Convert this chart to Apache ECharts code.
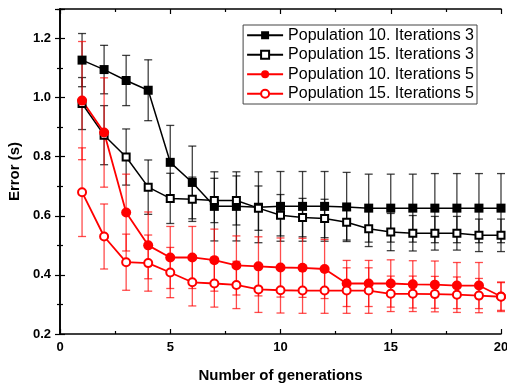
<!DOCTYPE html>
<html>
<head>
<meta charset="utf-8">
<script src="https://cdn.jsdelivr.net/npm/echarts@6/dist/echarts.min.js"></script>
<style>
  html, body { margin: 0; padding: 0; background: #fff; }
  #main { width: 507px; height: 383px; }
</style>
</head>
<body>
<div id="main"></div>
<script>
 // generations
 var gens = [1, 2, 3, 4, 5, 6, 7, 8, 9, 10, 11, 12, 13, 14, 15, 16, 17, 18, 19, 20];

 // Population 10. Iterations 3
 var p10i3 = [1.127, 1.095, 1.058, 1.025, 0.781, 0.713, 0.632, 0.632, 0.629, 0.632, 0.632, 0.632, 0.630, 0.626, 0.626, 0.626, 0.626, 0.626, 0.626, 0.626];
 var p10i3Err = [0.090, 0.082, 0.085, 0.103, 0.125, 0.123, 0.117, 0.117, 0.120, 0.118, 0.118, 0.118, 0.117, 0.115, 0.115, 0.115, 0.117, 0.117, 0.117, 0.117];

 // Population 15. Iterations 3
 var p15i3 = [0.980, 0.873, 0.799, 0.697, 0.659, 0.656, 0.652, 0.652, 0.626, 0.602, 0.594, 0.591, 0.578, 0.556, 0.545, 0.541, 0.541, 0.541, 0.534, 0.534];
 var p15i3Err = [0.088, 0.100, 0.095, 0.092, 0.085, 0.075, 0.075, 0.083, 0.075, 0.070, 0.065, 0.065, 0.060, 0.060, 0.063, 0.060, 0.057, 0.057, 0.055, 0.055];

 // Population 10. Iterations 5
 var p10i5 = [0.990, 0.882, 0.611, 0.500, 0.459, 0.459, 0.450, 0.432, 0.429, 0.425, 0.424, 0.420, 0.371, 0.371, 0.371, 0.368, 0.367, 0.364, 0.364, 0.327];
 var p10i5Err = [0.200, 0.185, 0.130, 0.113, 0.105, 0.105, 0.105, 0.100, 0.100, 0.100, 0.100, 0.100, 0.078, 0.078, 0.080, 0.080, 0.080, 0.078, 0.078, 0.047];

 // Population 15. Iterations 5
 var p15i5 = [0.680, 0.530, 0.443, 0.440, 0.408, 0.375, 0.371, 0.366, 0.351, 0.348, 0.347, 0.347, 0.347, 0.347, 0.336, 0.336, 0.335, 0.333, 0.330, 0.326];
 var p15i5Err = [0.150, 0.110, 0.095, 0.095, 0.085, 0.080, 0.080, 0.080, 0.078, 0.077, 0.077, 0.077, 0.077, 0.077, 0.060, 0.060, 0.060, 0.060, 0.058, 0.050];

 var names = ['Population 10. Iterations 3', 'Population 15. Iterations 3', 'Population 10. Iterations 5', 'Population 15. Iterations 5'];

 var myChart = echarts.init(document.getElementById('main'), null, { renderer: 'canvas' });

 function pairs(ys) {
     return gens.map(function (g, i) { return [g, ys[i]]; });
 }

 function triples(ys, errs) {
     return gens.map(function (g, i) { return [g, ys[i], errs[i]]; });
 }

 // error bars drawn with a custom series
 function errorSeries(name, ys, errs, color) {
     return {
         name: name + ' (err)',
         type: 'custom',
         z: 1,
         silent: true,
         data: triples(ys, errs),
         renderItem: function (params, api) {
             var x = api.value(0), y = api.value(1), e = api.value(2);
             var hi = api.coord([x, y + e]);
             var lo = api.coord([x, y - e]);
             var w = 4;
             var style = { stroke: color, lineWidth: 1.3 };
             return {
                 type: 'group',
                 children: [
                     { type: 'line', shape: { x1: hi[0], y1: hi[1], x2: lo[0], y2: lo[1] }, style: style },
                     { type: 'line', shape: { x1: hi[0] - w, y1: hi[1], x2: hi[0] + w, y2: hi[1] }, style: style },
                     { type: 'line', shape: { x1: lo[0] - w, y1: lo[1], x2: lo[0] + w, y2: lo[1] }, style: style }
                 ]
             };
         }
     };
 }

 function lineSeries(name, ys, color, symbol) {
     var empty = symbol.indexOf('empty') === 0;
     var isRect = symbol.indexOf('ect') > 0;
     return {
         name: name,
         type: 'line',
         z: 3,
         data: pairs(ys),
         symbol: symbol,
         symbolSize: empty ? (isRect ? 7 : 8) : (isRect ? 9 : 10),
         showAllSymbol: true,
         lineStyle: { color: color, width: color === '#000' ? 1.5 : 1.8 },
         itemStyle: { color: color, borderWidth: 1 },
         emphasis: { disabled: true }
     };
 }

 var axisLine = { lineStyle: { color: '#000', width: 1.6 } };
 var tick = { inside: true, length: 5, lineStyle: { color: '#000', width: 1.2 } };
 var minor = { show: true, splitNumber: 2, length: 3, lineStyle: { color: '#000', width: 1.2 } };

 var option = {
     animation: false,
     backgroundColor: '#fff',
     grid: { left: 60, right: 6, top: 9, bottom: 49, outerBoundsMode: 'none', containLabel: false },
     legend: {
         data: names,
         orient: 'vertical',
         right: 30,
         top: 25,
         itemWidth: 36,
         itemHeight: 10,
         itemGap: 3,
         padding: [2, 3, 2, 3],
         borderColor: '#444',
         borderWidth: 1,
         backgroundColor: '#fff',
         textStyle: { fontFamily: 'Liberation Sans', fontSize: 16, color: '#000', lineHeight: 16.5 }
     },
     xAxis: [{
         type: 'value',
         min: 0,
         max: 20,
         interval: 5,
         name: 'Number of generations',
         nameLocation: 'middle',
         nameGap: 34,
         nameTextStyle: { fontFamily: 'Liberation Sans', fontWeight: 'bold', fontSize: 15, color: '#000' },
         axisLine: axisLine,
         axisTick: tick,
         minorTick: minor,
         axisLabel: { fontFamily: 'Liberation Sans', fontWeight: 'bold', fontSize: 13, color: '#000', margin: 7 },
         splitLine: { show: false }
     }, {
         type: 'value',
         position: 'top',
         min: 0,
         max: 20,
         interval: 5,
         axisLine: axisLine,
         axisTick: tick,
         minorTick: minor,
         axisLabel: { show: false },
         splitLine: { show: false }
     }],
     yAxis: [{
         type: 'value',
         min: 0.2,
         max: 1.3,
         interval: 0.2,
         name: 'Error (s)',
         nameLocation: 'middle',
         nameGap: 28,
         nameTextStyle: { fontFamily: 'Liberation Sans', fontWeight: 'bold', fontSize: 15, color: '#000' },
         axisLine: axisLine,
         axisTick: tick,
         minorTick: minor,
         axisLabel: {
             fontFamily: 'Liberation Sans', fontWeight: 'bold', fontSize: 13, color: '#000', margin: 9,
             showMaxLabel: false,
             formatter: function (v) { return v.toFixed(1); }
         },
         splitLine: { show: false }
     }, {
         type: 'value',
         position: 'right',
         min: 0.2,
         max: 1.3,
         interval: 0.2,
         axisLine: axisLine,
         axisTick: tick,
         minorTick: minor,
         axisLabel: { show: false },
         splitLine: { show: false }
     }],
     series: [
         errorSeries(names[0], p10i3, p10i3Err, 'rgba(0,0,0,0.75)'),
         errorSeries(names[1], p15i3, p15i3Err, 'rgba(0,0,0,0.75)'),
         errorSeries(names[2], p10i5, p10i5Err, 'rgba(255,0,0,0.7)'),
         errorSeries(names[3], p15i5, p15i5Err, 'rgba(255,0,0,0.7)'),
         lineSeries(names[0], p10i3, '#000', 'rect'),
         lineSeries(names[1], p15i3, '#000', 'emptyRect'),
         lineSeries(names[2], p10i5, '#f00', 'circle'),
         lineSeries(names[3], p15i5, '#f00', 'emptyCircle')
     ]
 };

 myChart.setOption(option);
</script>
</body>
</html>
